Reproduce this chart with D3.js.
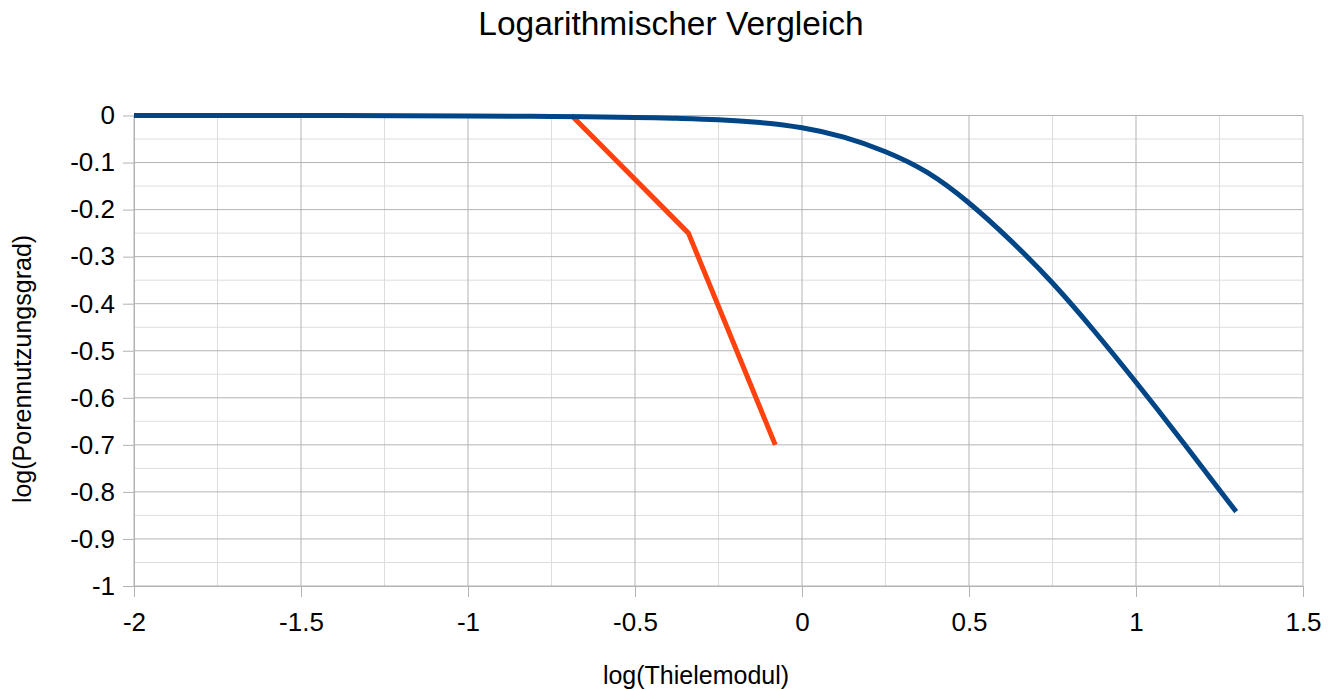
<!DOCTYPE html>
<html>
<head>
<meta charset="utf-8">
<script src="https://cdn.jsdelivr.net/npm/d3@7"></script>
<style>
  html, body { margin: 0; padding: 0; background: #ffffff; }
  svg { display: block; font-family: "Liberation Sans", Arial, sans-serif; }
</style>
</head>
<body>
<svg id="chart" width="1335" height="689"></svg>
<script>
// ---- data ----
const titleText = "Logarithmischer Vergleich";
const xTitle = "log(Thielemodul)";
const yTitle = "log(Porennutzungsgrad)";

const seriesAX = [-2, -1.5, -1, -0.75, -0.5, -0.375, -0.25, -0.125, 0, 0.125, 0.25, 0.375, 0.5, 0.625, 0.75, 0.875, 1.0, 1.125, 1.25, 1.3];
const seriesAY = [0, 0, -0.001, -0.002, -0.004, -0.006, -0.009, -0.015, -0.026, -0.046, -0.077, -0.121, -0.186, -0.266, -0.356, -0.458, -0.567, -0.680, -0.796, -0.842];

const seriesBX = [-0.69, -0.34, -0.08];
const seriesBY = [0, -0.25, -0.70];

const xMajorTicks = [-2, -1.5, -1, -0.5, 0, 0.5, 1, 1.5];
const xMinorTicks = [-1.75, -1.25, -0.75, -0.25, 0.25, 0.75, 1.25];
const yMajorTicks = [0, -0.1, -0.2, -0.3, -0.4, -0.5, -0.6, -0.7, -0.8, -0.9, -1];
const yMinorTicks = [-0.05, -0.15, -0.25, -0.35, -0.45, -0.55, -0.65, -0.75, -0.85, -0.95];

const colorA = "#004586";
const colorB = "#ff420e";

// ---- layout ----
const svg = d3.select("#chart");
const pLeft = 134, pRight = 1303, pTop = 115.5, pBottom = 586;

const x = d3.scaleLinear().domain([-2, 1.5]).range([pLeft, pRight]);
const y = d3.scaleLinear().domain([0, -1]).range([pTop, pBottom]);
const fmt = d => String(+(+d).toFixed(2));

// minor grid
const grid = svg.append("g");
grid.selectAll("line.vmin").data(xMinorTicks).enter().append("line")
  .attr("x1", d => x(d)).attr("x2", d => x(d)).attr("y1", pTop).attr("y2", pBottom)
  .attr("stroke", "#dddddd").attr("stroke-width", 1);
grid.selectAll("line.hmin").data(yMinorTicks).enter().append("line")
  .attr("x1", pLeft).attr("x2", pRight).attr("y1", d => y(d)).attr("y2", d => y(d))
  .attr("stroke", "#dddddd").attr("stroke-width", 1);
// major grid
grid.selectAll("line.vmaj").data(xMajorTicks).enter().append("line")
  .attr("x1", d => x(d)).attr("x2", d => x(d)).attr("y1", pTop).attr("y2", pBottom)
  .attr("stroke", "#b3b3b3").attr("stroke-width", 1);
grid.selectAll("line.hmaj").data(yMajorTicks).enter().append("line")
  .attr("x1", pLeft).attr("x2", pRight).attr("y1", d => y(d)).attr("y2", d => y(d))
  .attr("stroke", "#b3b3b3").attr("stroke-width", 1);

// axes
const xAxis = d3.axisBottom(x).tickValues(xMajorTicks).tickFormat(fmt).tickSize(11).tickSizeOuter(0).tickPadding(16);
const yAxis = d3.axisLeft(y).tickValues(yMajorTicks).tickFormat(fmt).tickSize(11).tickSizeOuter(0).tickPadding(8);

const gx = svg.append("g").attr("transform", `translate(0,${pBottom})`).call(xAxis);
const gy = svg.append("g").attr("transform", `translate(${pLeft},0)`).call(yAxis);
[gx, gy].forEach(g => {
  g.select(".domain").attr("stroke", "#b3b3b3");
  g.selectAll(".tick line").attr("stroke", "#b3b3b3");
  g.selectAll(".tick text").attr("fill", "#000").style("font-size", "26px")
    .style("font-family", "'Liberation Sans', Arial, sans-serif");
});

// series
const dataA = seriesAX.map((v, i) => [v, seriesAY[i]]);
const dataB = seriesBX.map((v, i) => [v, seriesBY[i]]);

svg.append("path").datum(dataB)
  .attr("d", d3.line().x(d => x(d[0])).y(d => y(d[1])).curve(d3.curveLinear))
  .attr("fill", "none").attr("stroke", colorB).attr("stroke-width", 5).attr("stroke-linejoin", "round");
svg.append("path").datum(dataA)
  .attr("d", d3.line().x(d => x(d[0])).y(d => y(d[1])).curve(d3.curveNatural))
  .attr("fill", "none").attr("stroke", colorA).attr("stroke-width", 5).attr("stroke-linejoin", "round");

// titles
svg.append("text").attr("x", 671).attr("y", 35).attr("text-anchor", "middle")
  .style("font-size", "33.5px").attr("fill", "#000").text(titleText);
svg.append("text").attr("x", 696).attr("y", 684).attr("text-anchor", "middle")
  .style("font-size", "25px").attr("fill", "#000").text(xTitle);
svg.append("text").attr("transform", "translate(31,369) rotate(-90)").attr("text-anchor", "middle")
  .style("font-size", "25px").attr("fill", "#000").text(yTitle);
</script>
</body>
</html>
